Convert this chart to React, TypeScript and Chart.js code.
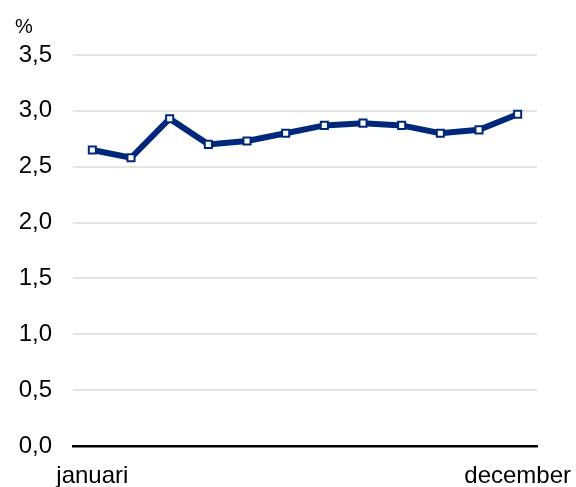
import React, { useEffect, useRef } from "react";
import { Chart, registerables } from "chart.js";

Chart.register(...registerables);

const months = [
  "januari", "februari", "maart", "april", "mei", "juni",
  "juli", "augustus", "september", "oktober", "november", "december",
];
const values = [2.65, 2.58, 2.93, 2.7, 2.73, 2.8, 2.87, 2.89, 2.87, 2.8, 2.83, 2.97];
const shownTickIndexes = [0, 11];
const yMin = 0;
const yMax = 3.5;
const yStep = 0.5;
const unitLabel = "%";

const FONT = "'Liberation Sans', Arial, sans-serif";
const NAVY = "#00287a";

export default function App() {
  const ref = useRef<HTMLCanvasElement | null>(null);

  useEffect(() => {
    if (!ref.current) return;
    const chart = new Chart(ref.current, {
      type: "line",
      data: {
        labels: months,
        datasets: [
          {
            data: values,
            borderColor: NAVY,
            borderWidth: 6,
            tension: 0,
            pointStyle: "rect",
            pointRadius: 5,
            pointBorderWidth: 2,
            pointBackgroundColor: "#ffffff",
            pointBorderColor: NAVY,
          },
        ],
      },
      options: {
        animation: false,
        responsive: false,
        maintainAspectRatio: false,
        layout: { padding: { left: 15, right: 39, top: 0, bottom: 0 } },
        plugins: {
          legend: { display: false },
          tooltip: { enabled: false },
          title: {
            display: true,
            text: unitLabel,
            align: "start",
            color: "#000",
            font: { family: FONT, size: 20, weight: "normal" },
            padding: { top: 15, bottom: 16 },
          },
        },
        scales: {
          x: {
            offset: true,
            grid: { display: false, drawTicks: false },
            border: { display: true, color: "#000", width: 2.5 },
            ticks: {
              autoSkip: false,
              maxRotation: 0,
              minRotation: 0,
              padding: 16,
              color: "#000",
              font: { family: FONT, size: 24 },
              callback: (_v: any, i: number) => (shownTickIndexes.includes(i) ? months[i] : ""),
            },
            afterFit: (s: any) => {
              s.height = 41;
              s.paddingLeft = 0;
              s.paddingRight = 0;
            },
          },
          y: {
            min: yMin,
            max: yMax,
            grid: { color: "#e4e4e4", lineWidth: 2, drawTicks: false },
            border: { display: false },
            ticks: {
              stepSize: yStep,
              padding: 21,
              color: "#000",
              font: { family: FONT, size: 24 },
              callback: (v: any) => Number(v).toFixed(1).replace(".", ","),
            },
            afterFit: (s: any) => {
              s.width = 58;
              s.paddingTop = 0;
              s.paddingBottom = 0;
            },
          },
        },
      },
    });
    return () => chart.destroy();
  }, []);

  return (
    <div style={{ position: "absolute", left: 0, top: 0, width: 576, height: 487, background: "#fff" }}>
      <canvas ref={ref} width={576} height={487} style={{ display: "block" }} />
    </div>
  );
}
